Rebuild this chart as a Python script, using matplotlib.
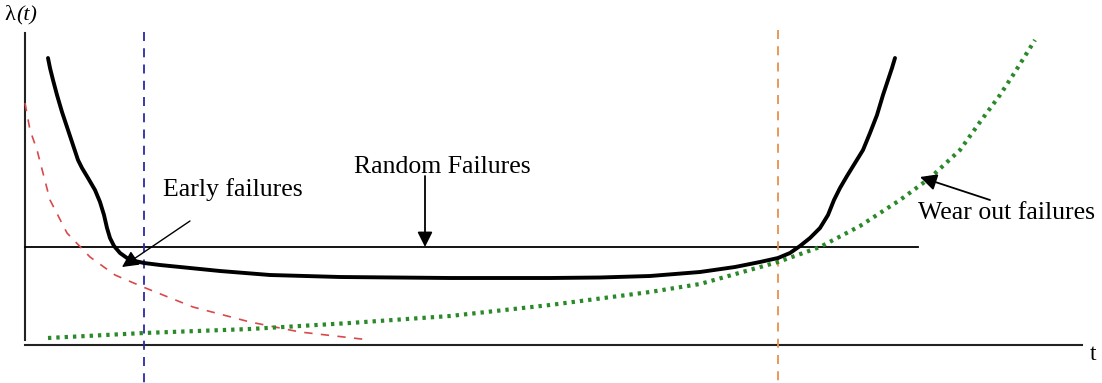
import matplotlib.pyplot as plt
import numpy as np

H = 383  # picture height, values below are read top-down and flipped

# overall curve (bathtub)
bath_t = [48, 50, 53, 57, 62, 68, 73, 78, 82, 88, 95, 100, 104, 107, 110, 114, 120,
          127, 135, 144, 160, 180, 220, 270, 340, 450, 550, 600, 650, 700, 735, 760,
          778, 790, 800, 810, 820, 828, 834, 840, 847, 855, 863, 870, 877, 883, 888,
          892, 895]
bath_y = [58, 68, 80, 95, 112, 130, 145, 160, 168, 178, 190, 202, 215, 228, 238, 246, 253,
          258, 261, 263, 265, 267, 271, 275, 277, 278, 278, 277.5, 276, 272, 267, 262,
          258, 253, 246, 238, 228, 215, 200, 188, 176, 163, 150, 133, 115, 95, 80,
          68, 58]

# early failures (decreasing)
early_t = [25, 30, 37, 50, 67, 90, 115, 143, 193, 250, 300, 370]
early_y = [103, 130, 150, 200, 233, 257, 275, 287, 307, 322, 332, 340]

# wear out failures (increasing)
wear_t = [48, 144, 250, 350, 450, 550, 650, 700, 778, 820, 860, 900, 930, 960, 980, 1000, 1015, 1035]
wear_y = [338, 333, 329, 323, 316, 305, 292, 284, 262, 247, 226, 200, 178, 150, 122, 95, 72, 40]

random_level = 247
t_early_end = 144
t_wear_start = 778

def up(v):
    return H - np.array(v, dtype=float)

fig = plt.figure(figsize=(11.02, 3.83), dpi=100)
ax = fig.add_axes([0, 0, 1, 1])
ax.set_xlim(0, 1102)
ax.set_ylim(0, H)
ax.axis('off')

serif = ['Liberation Serif', 'DejaVu Serif']

# axes lines
ax.plot([25, 25], up([33, 340]), color='#222222', lw=1.5)
ax.plot([25, 1082], up([345, 345]), color='#222222', lw=1.5)
ax.text(4, up(16), 'λ', fontsize=16, family=serif, va='center', ha='left')
ax.text(16, up(16), '(t)', fontsize=16, family=serif, style='italic', va='center', ha='left')
ax.text(1090, up(354), 't', fontsize=17, family=serif, va='center', ha='left')

# random failures level
ax.plot([25, 918], up([random_level, random_level]), color='black', lw=1.3)

# phase boundaries
ax.plot([t_early_end, t_early_end], up([32, 383]), color='#2a2aa8', lw=1.3, ls=(0, (5, 4)))
ax.plot([t_wear_start, t_wear_start], up([30, 383]), color='#e8904a', lw=1.3, ls=(0, (5, 4)))

ax.plot(early_t, up(early_y), color='#d84a4a', lw=1.2, ls=(0, (5, 5)))
ax.plot(wear_t, up(wear_y), color='#2a8a2a', lw=3, ls=(0, (0.8, 1.2)))
ax.plot(bath_t, up(bath_y), color='black', lw=2.8, solid_capstyle='round', solid_joinstyle='round')

# labels with arrows
ax.text(442, up(167), 'Random Failures', fontsize=18.5, family=serif, ha='center', va='center')
ax.annotate('', xy=(425, up(247)), xytext=(425, up(176)),
            arrowprops=dict(arrowstyle='-|>,head_length=0.9,head_width=0.45',
                            color='black', lw=1.3, shrinkA=0, shrinkB=0))

ax.text(163, up(190), 'Early failures', fontsize=18.5, family=serif, ha='left', va='center')
ax.annotate('', xy=(122, up(267)), xytext=(190, up(221)),
            arrowprops=dict(arrowstyle='-|>,head_length=1.0,head_width=0.5',
                            color='black', lw=1.0, shrinkA=0, shrinkB=0))

ax.text(918, up(213), 'Wear out failures', fontsize=18.5, family=serif, ha='left', va='center')
ax.annotate('', xy=(920, up(177)), xytext=(990, up(200)),
            arrowprops=dict(arrowstyle='-|>,head_length=1.0,head_width=0.5',
                            color='black', lw=1.3, shrinkA=0, shrinkB=0))

plt.savefig('out.png', dpi=100)
